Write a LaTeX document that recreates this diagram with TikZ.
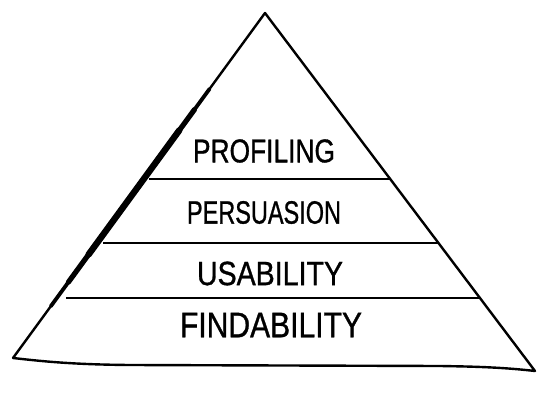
\documentclass[tikz,border=0pt]{standalone}
\usepackage{fontspec}
\usepackage{graphicx}
\usetikzlibrary{calc}
\setmainfont{Liberation Sans}
\newfontfamily\handfont[RawFeature={embolden=1.0}]{Liberation Sans}
\begin{document}
\begin{tikzpicture}[x=1pt,y=-1pt,
  side/.style={line width=2.4pt, line join=round, line cap=round},
  layerline/.style={line width=1.6pt},
  label/.style={inner sep=0pt, anchor=center, font=\handfont}]
\useasboundingbox (0,0) rectangle (550,410);
\fill[white] (0,0) rectangle (550,410);
\coordinate (apex) at (265,13);
\coordinate (bl) at (13,358);
\coordinate (br) at (535,371);
% pyramid outline
\draw[side] (bl) -- (apex) -- (br) .. controls (500,367) and (470,366.5) .. (440,366)
  -- (130,365) .. controls (70,364.5) and (40,361) .. (bl);
% thick portion of left side
\draw[line width=3.8pt, line cap=round] ($(bl)!0.15!(apex)$) -- ($(bl)!0.78!(apex)$);
\draw[line width=5.2pt, line cap=round] ($(bl)!0.22!(apex)$) -- ($(bl)!0.72!(apex)$);
\draw[line width=6.4pt, line cap=round] ($(bl)!0.30!(apex)$) -- ($(bl)!0.66!(apex)$);
% layer lines
\coordinate (l1a) at (149,179); \coordinate (l1b) at (390,179);
\coordinate (l2a) at (103,243); \coordinate (l2b) at (438,243);
\coordinate (l3a) at (66,298);  \coordinate (l3b) at (480,298);
\draw[layerline] (l1a) -- (l1b);
\draw[layerline] (l2a) -- (l2b);
\draw[layerline] (l3a) -- (l3b);
% labels
\node[label] (profiling) at (264,151) {\resizebox{142pt}{23pt}{PROFILING}};
\node[label] (persuasion) at (264,212.5) {\resizebox{154pt}{22.5pt}{PERSUASION}};
\node[label] (usability) at (270,273.5) {\resizebox{146pt}{23.5pt}{USABILITY}};
\node[label] (findability) at (271,325) {\resizebox{182pt}{24.5pt}{FINDABILITY}};
\end{tikzpicture}
\end{document}
